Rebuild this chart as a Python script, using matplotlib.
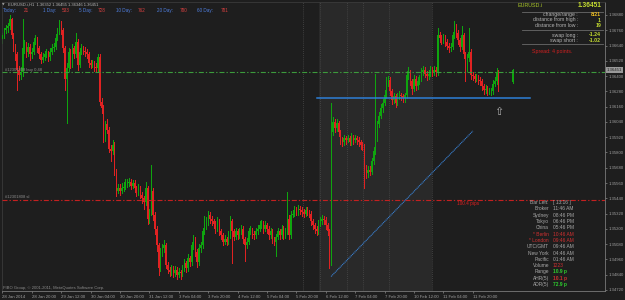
import numpy as np
import matplotlib
matplotlib.use('Agg')
import matplotlib.pyplot as plt
import matplotlib.transforms as mtransforms

plt.rcParams['font.family'] = ['Liberation Sans', 'DejaVu Sans']

# ── Data: EURUSD.i H1 bars ──────────────────────────────────────────────
first_open = 1.3669
last_open = 1.36352

closes = [
    1.3672, 1.3676, 1.3678, 1.3679, 1.3685, 1.3672, 1.3663, 1.3657, 1.3645, 1.3641,
    1.3643, 1.3662, 1.3664, 1.3659, 1.3663, 1.3657, 1.3659, 1.3667, 1.3670, 1.3662,
    1.3657, 1.3653, 1.3655, 1.3657, 1.3658, 1.3655, 1.3659, 1.3662, 1.3663, 1.3670,
    1.3675, 1.3681, 1.3676, 1.3662, 1.3638, 1.3646, 1.3659, 1.3649, 1.3662, 1.3657,
    1.3667, 1.3649, 1.3659, 1.3662, 1.3660, 1.3659, 1.3657, 1.3650, 1.3649, 1.3650,
    1.3647, 1.3646, 1.3655, 1.3620, 1.3615, 1.3591, 1.3602, 1.3598, 1.3583, 1.3581,
    1.3586, 1.3565, 1.3550, 1.3552, 1.3550, 1.3552, 1.3553, 1.3556, 1.3556, 1.3557,
    1.3554, 1.3556, 1.3552, 1.3549, 1.3552, 1.3547, 1.3544, 1.3541, 1.3552, 1.3528,
    1.3533, 1.3550, 1.3531, 1.3520, 1.3507, 1.3489, 1.3502, 1.3505, 1.3507, 1.3492,
    1.3488, 1.3486, 1.3489, 1.3485, 1.3488, 1.3484, 1.3486, 1.3485, 1.3489, 1.3493,
    1.3489, 1.3497, 1.3494, 1.3507, 1.3512, 1.3502, 1.3494, 1.3505, 1.3507, 1.3518,
    1.3523, 1.3526, 1.3531, 1.3528, 1.3526, 1.3524, 1.3520, 1.3526, 1.3518, 1.3515,
    1.3510, 1.3512, 1.3510, 1.3515, 1.3526, 1.3518, 1.3514, 1.3518, 1.3515, 1.3518,
    1.3520, 1.3512, 1.3507, 1.3510, 1.3518, 1.3519, 1.3516, 1.3515, 1.3518, 1.3520,
    1.3523, 1.3524, 1.3520, 1.3523, 1.3520, 1.3515, 1.3518, 1.3512, 1.3510, 1.3514,
    1.3518, 1.3515, 1.3520, 1.3515, 1.3518, 1.3528, 1.3515, 1.3531, 1.3532, 1.3535,
    1.3533, 1.3536, 1.3535, 1.3533, 1.3532, 1.3535, 1.3533, 1.3532, 1.3526, 1.3523,
    1.3520, 1.3518, 1.3524, 1.3526, 1.3528, 1.3527, 1.3523, 1.3518, 1.3494, 1.3596,
    1.3604, 1.3599, 1.3603, 1.3596, 1.3590, 1.3588, 1.3591, 1.3590, 1.3591, 1.3588,
    1.3592, 1.3590, 1.3591, 1.3590, 1.3588, 1.3586, 1.3585, 1.3567, 1.3564, 1.3566,
    1.3565, 1.3573, 1.3581, 1.3591, 1.3602, 1.3609, 1.3615, 1.3619, 1.3625, 1.3636,
    1.3637, 1.3628, 1.3621, 1.3624, 1.3619, 1.3624, 1.3625, 1.3624, 1.3623, 1.3625,
    1.3641, 1.3643, 1.3636, 1.3630, 1.3638, 1.3632, 1.3636, 1.3638, 1.3643, 1.3645,
    1.3642, 1.3640, 1.3642, 1.3645, 1.3643, 1.3645, 1.3643, 1.3672, 1.3670, 1.3668,
    1.3670, 1.3667, 1.3664, 1.3662, 1.3663, 1.3672, 1.3679, 1.3674, 1.3668, 1.3663,
    1.3672, 1.3657, 1.3646, 1.3654, 1.3659, 1.3641, 1.3640, 1.3638, 1.3640, 1.3637,
    1.3636, 1.3632, 1.3629, 1.3630, 1.3628, 1.3628, 1.3628, 1.3634, 1.3636, 1.3643,
    1.3642, None, None, None, None, None, None, None, 1.36451,
]

highs = [
    1.3674, 1.3678, 1.3680, 1.3682, 1.3688, 1.3686, 1.3674, 1.3665, 1.3659, 1.3648,
    1.3647, 1.3685, 1.3668, 1.3667, 1.3666, 1.3665, 1.3662, 1.3670, 1.3672, 1.3671,
    1.3664, 1.3659, 1.3658, 1.3660, 1.3661, 1.3660, 1.3662, 1.3665, 1.3666, 1.3673,
    1.3678, 1.3684, 1.3683, 1.3678, 1.3664, 1.3650, 1.3662, 1.3661, 1.3665, 1.3664,
    1.3674, 1.3669, 1.3662, 1.3665, 1.3664, 1.3663, 1.3661, 1.3659, 1.3653, 1.3653,
    1.3652, 1.3650, 1.3657, 1.3657, 1.3623, 1.3617, 1.3605, 1.3606, 1.3600, 1.3586,
    1.3590, 1.3588, 1.3567, 1.3555, 1.3555, 1.3556, 1.3557, 1.3559, 1.3559, 1.3560,
    1.3559, 1.3558, 1.3558, 1.3554, 1.3555, 1.3554, 1.3549, 1.3546, 1.3557, 1.3554,
    1.3536, 1.3570, 1.3552, 1.3533, 1.3522, 1.3509, 1.3505, 1.3508, 1.3511, 1.3509,
    1.3494, 1.3490, 1.3492, 1.3491, 1.3491, 1.3490, 1.3489, 1.3488, 1.3492, 1.3496,
    1.3495, 1.3500, 1.3499, 1.3510, 1.3515, 1.3514, 1.3504, 1.3508, 1.3510, 1.3521,
    1.3530, 1.3529, 1.3534, 1.3533, 1.3530, 1.3528, 1.3526, 1.3529, 1.3528, 1.3520,
    1.3517, 1.3515, 1.3514, 1.3518, 1.3530, 1.3528, 1.3520, 1.3521, 1.3520, 1.3521,
    1.3523, 1.3522, 1.3514, 1.3513, 1.3521, 1.3522, 1.3521, 1.3518, 1.3521, 1.3523,
    1.3526, 1.3527, 1.3526, 1.3526, 1.3525, 1.3522, 1.3521, 1.3520, 1.3514, 1.3516,
    1.3521, 1.3520, 1.3523, 1.3522, 1.3521, 1.3549, 1.3531, 1.3534, 1.3535, 1.3538,
    1.3537, 1.3539, 1.3538, 1.3537, 1.3536, 1.3537, 1.3537, 1.3535, 1.3534, 1.3528,
    1.3525, 1.3522, 1.3527, 1.3529, 1.3531, 1.3530, 1.3529, 1.3525, 1.3520, 1.3619,
    1.3608, 1.3606, 1.3606, 1.3605, 1.3598, 1.3592, 1.3594, 1.3593, 1.3594, 1.3593,
    1.3595, 1.3594, 1.3594, 1.3593, 1.3592, 1.3590, 1.3588, 1.3587, 1.3570, 1.3569,
    1.3569, 1.3576, 1.3584, 1.3642, 1.3605, 1.3612, 1.3618, 1.3622, 1.3629, 1.3639,
    1.3640, 1.3639, 1.3630, 1.3627, 1.3626, 1.3627, 1.3628, 1.3627, 1.3626, 1.3627,
    1.3644, 1.3647, 1.3645, 1.3638, 1.3641, 1.3640, 1.3639, 1.3641, 1.3646, 1.3648,
    1.3647, 1.3644, 1.3645, 1.3648, 1.3647, 1.3648, 1.3647, 1.3678, 1.3675, 1.3672,
    1.3673, 1.3672, 1.3669, 1.3666, 1.3666, 1.3675, 1.3683, 1.3681, 1.3676, 1.3670,
    1.3679, 1.3674, 1.3659, 1.3657, 1.3678, 1.3661, 1.3643, 1.3642, 1.3642, 1.3641,
    1.3639, 1.3638, 1.3634, 1.3633, 1.3632, 1.3631, 1.3631, 1.3637, 1.3639, 1.3646,
    1.3645, None, None, None, None, None, None, None, 1.36455,
]

lows = [
    1.3666, 1.3670, 1.3674, 1.3675, 1.3677, 1.3670, 1.3660, 1.3653, 1.3629, 1.3637,
    1.3638, 1.3640, 1.3658, 1.3655, 1.3656, 1.3653, 1.3654, 1.3657, 1.3665, 1.3659,
    1.3654, 1.3650, 1.3651, 1.3653, 1.3655, 1.3652, 1.3653, 1.3657, 1.3660, 1.3661,
    1.3668, 1.3673, 1.3673, 1.3659, 1.3629, 1.3603, 1.3644, 1.3646, 1.3647, 1.3654,
    1.3655, 1.3645, 1.3647, 1.3657, 1.3657, 1.3656, 1.3654, 1.3647, 1.3646, 1.3647,
    1.3644, 1.3643, 1.3644, 1.3617, 1.3611, 1.3588, 1.3589, 1.3595, 1.3580, 1.3573,
    1.3579, 1.3562, 1.3546, 1.3548, 1.3547, 1.3548, 1.3550, 1.3551, 1.3553, 1.3554,
    1.3551, 1.3552, 1.3549, 1.3546, 1.3547, 1.3544, 1.3540, 1.3536, 1.3539, 1.3524,
    1.3525, 1.3531, 1.3527, 1.3516, 1.3503, 1.3484, 1.3487, 1.3499, 1.3502, 1.3489,
    1.3485, 1.3483, 1.3484, 1.3482, 1.3483, 1.3481, 1.3482, 1.3481, 1.3483, 1.3487,
    1.3486, 1.3487, 1.3491, 1.3492, 1.3504, 1.3499, 1.3490, 1.3492, 1.3502, 1.3505,
    1.3516, 1.3520, 1.3523, 1.3525, 1.3523, 1.3521, 1.3517, 1.3518, 1.3515, 1.3512,
    1.3507, 1.3508, 1.3507, 1.3508, 1.3513, 1.3493, 1.3511, 1.3512, 1.3512, 1.3513,
    1.3516, 1.3509, 1.3495, 1.3505, 1.3508, 1.3516, 1.3513, 1.3512, 1.3513, 1.3516,
    1.3518, 1.3521, 1.3517, 1.3518, 1.3517, 1.3512, 1.3513, 1.3509, 1.3507, 1.3499,
    1.3512, 1.3512, 1.3513, 1.3512, 1.3513, 1.3516, 1.3512, 1.3513, 1.3529, 1.3530,
    1.3531, 1.3531, 1.3532, 1.3530, 1.3529, 1.3530, 1.3531, 1.3529, 1.3523, 1.3520,
    1.3517, 1.3515, 1.3516, 1.3522, 1.3524, 1.3524, 1.3520, 1.3515, 1.3489, 1.3492,
    1.3594, 1.3596, 1.3597, 1.3593, 1.3587, 1.3585, 1.3586, 1.3587, 1.3588, 1.3586,
    1.3586, 1.3587, 1.3588, 1.3587, 1.3585, 1.3583, 1.3582, 1.3552, 1.3560, 1.3561,
    1.3562, 1.3563, 1.3571, 1.3579, 1.3589, 1.3600, 1.3607, 1.3612, 1.3617, 1.3623,
    1.3632, 1.3625, 1.3618, 1.3619, 1.3616, 1.3617, 1.3622, 1.3621, 1.3620, 1.3620,
    1.3623, 1.3638, 1.3633, 1.3626, 1.3628, 1.3629, 1.3630, 1.3634, 1.3636, 1.3641,
    1.3639, 1.3637, 1.3638, 1.3640, 1.3640, 1.3641, 1.3640, 1.3641, 1.3667, 1.3665,
    1.3666, 1.3664, 1.3661, 1.3659, 1.3660, 1.3661, 1.3670, 1.3671, 1.3665, 1.3660,
    1.3661, 1.3654, 1.3636, 1.3644, 1.3652, 1.3638, 1.3637, 1.3635, 1.3636, 1.3634,
    1.3633, 1.3629, 1.3626, 1.3627, 1.3625, 1.3626, 1.3625, 1.3626, 1.3632, 1.3634,
    1.3628, None, None, None, None, None, None, None, 1.36346,
]

time_labels = ['28 Jan 2014', '28 Jan 20:00', '29 Jan 12:00', '30 Jan 04:00',
               '30 Jan 20:00', '31 Jan 12:00', '3 Feb 04:00', '3 Feb 20:00',
               '4 Feb 12:00', '5 Feb 04:00', '5 Feb 20:00', '6 Feb 12:00',
               '7 Feb 04:00', '7 Feb 20:00', '10 Feb 12:00', '11 Feb 04:00',
               '11 Feb 20:00']
time_label_bars = list(range(0, 257, 16))

price_ticks = [1.36880, 1.36760, 1.36640, 1.36520, 1.36400, 1.36280, 1.36160,
               1.36040, 1.35920, 1.35800, 1.35680, 1.35560, 1.35440, 1.35320,
               1.35200, 1.35080, 1.34960, 1.34840, 1.34720]

# chart objects
order_price = 1.36430      # buy 0.48
sl_price = 1.35426         # stop loss
support_price = 1.36226    # blue horizontal line
support_bars = [171.3, 287.2]
trend_bars = [178.9, 256.1]
trend_prices = [1.34826, 1.35969]
arrow_bar, arrow_price = 270.3, 1.36118
session_band = [172.3, 233.8]
separator_bars = [163.6, 172.9, 187.6, 196.3, 210.4, 233.8]

period_labels = ['Today:', '1 Day:', '5 Day:', '10 Day:', '20 Day:', '60 Day:']
period_values = ['21', '533', '728', '762', '780', '781']

info_labels = ['change/range :', 'distance from high :', 'distance from low :']
info_values = ['8/21', '1', '19']
swap_labels = ['swap long :', 'swap short :']
swap_values = ['-1.24', '-1.02']

clock_labels = ['Bar Left:', 'Broker', 'Sydney', 'Tokyo', 'China', '* Berlin',
                '* London', 'UTC/GMT', 'New York', 'Pacific', 'Volume', 'Range',
                'AHR(5)', 'ADR(5)']
clock_values = ['[ 13:16 ]', '11:46 AM', '08:46 PM', '06:46 PM', '05:46 PM',
                '10:46 AM', '09:46 AM', '09:46 AM', '04:46 AM', '01:46 AM',
                '1223', '10.9 p', '10.1 p', '72.9 p']

# ── Colours ────────────────────────────────────────────────────────────
bg = '#1e1e1e'
band = '#292929'
up_col = '#0fa50f'
dn_col = '#e02222'
txt_gray = '#a8a8a8'
red_txt = '#d03030'
green_txt = '#2ed02e'
yg_txt = '#c4dc30'

W, H = 625, 300
fig = plt.figure(figsize=(6.25, 3.0), dpi=100, facecolor=bg)
ax = fig.add_axes([2 / W, 9 / H, 603 / W, 289 / H], facecolor=bg)


def fpos(x, y):
    return x / W, 1 - y / H


# ── Candles ────────────────────────────────────────────────────────────
c = np.array(closes, dtype=float)
hi = np.array(highs, dtype=float)
lo = np.array(lows, dtype=float)
o = np.r_[first_open, c[:-1]]
o[np.isnan(o) & ~np.isnan(c)] = last_open
idx = np.arange(len(c))
ok = ~np.isnan(c)
up = ok & (c >= o)
dn = ok & (c < o)

ax.axvspan(session_band[0], session_band[1], color=band, zorder=0, lw=0)
for b in separator_bars:
    ax.axvline(b, color='#4a4a4a', lw=0.6, ls=(0, (1, 1.5)), zorder=1)

for mask, col in [(up, up_col), (dn, dn_col)]:
    ax.vlines(idx[mask], lo[mask], hi[mask], color=col, lw=0.62,
              antialiased=False, zorder=2)
    body_lo = np.minimum(o[mask], c[mask])
    body_h = np.maximum(np.abs(c[mask] - o[mask]), 0.00004)
    ax.bar(idx[mask], body_h, bottom=body_lo, width=0.7, color=col,
           lw=0, antialiased=False, zorder=3)

# ── Objects on the chart ───────────────────────────────────────────────
ax.axhline(order_price, color='#3c9a3c', lw=0.8, dashes=(4.5, 1.8, 1.2, 1.8), zorder=4)
ax.axhline(sl_price, color='#c42020', lw=0.8, dashes=(4.5, 1.8, 1.2, 1.8), zorder=4)
ax.plot(support_bars, [support_price] * 2, color='#2d7fd6', lw=1.1, zorder=5)
ax.plot(trend_bars, trend_prices, color='#3a82d4', lw=0.8, ls=(0, (1, 0.6)), zorder=5)
ax.text(arrow_bar, arrow_price, '\u21e7', color='#b0b0b0', fontsize=8,
        ha='center', va='center', family=['DejaVu Sans'], zorder=6)

ax.text(1.5, order_price + 0.00005, '#12301808 buy 0.48', color='#8c8c8c',
        fontsize=3, va='bottom', zorder=6)
ax.text(1.5, sl_price + 0.00005, '#12301808 sl', color='#8c8c8c',
        fontsize=3, va='bottom', zorder=6)
ax.text(253.4, sl_price - 0.00005, '%.1f pips' % ((order_price - sl_price) * 10000),
        color='#e02020', fontsize=3.4, ha='center', va='top', zorder=6)

# ── Axes ───────────────────────────────────────────────────────────────
ax.set_xlim(-0.2, 328.0)
ax.set_ylim(1.347120, 1.369821)
ax.yaxis.tick_right()
ax.set_yticks(price_ticks)
ax.set_yticklabels(['%.5f' % p for p in price_ticks])
ax.set_xticks(time_label_bars)
ax.set_xticklabels(time_labels, ha='left')
ax.tick_params(axis='both', colors='#8a8a8a', labelcolor='#a0a0a0',
               labelsize=3.1, length=1.6, width=0.5, pad=1.2)
for side in ['left', 'top']:
    ax.spines[side].set_color('#3a3a3a')
    ax.spines[side].set_linewidth(0.6)
for side in ['right', 'bottom']:
    ax.spines[side].set_color('#7a7a7a')
    ax.spines[side].set_linewidth(0.6)

# current price box on the price scale
blend = mtransforms.blended_transform_factory(ax.transAxes, ax.transData)
ax.text(1.003, closes[-1], '%.5f' % closes[-1], transform=blend, fontsize=3.1,
        color='#202020', va='center', ha='left', clip_on=False,
        bbox=dict(boxstyle='square,pad=0.25', fc='#9a9a9a', ec='none'), zorder=7)

# ── Header texts (top left) ────────────────────────────────────────────
fig.text(*fpos(2, 4.7), '\u25bc', color='#a0a0a0', fontsize=2.4, va='center',
         family=['DejaVu Sans'])
fig.text(*fpos(8, 4.7), 'EURUSD.i,H1  %.5f %.5f %.5f %.5f' %
         (last_open, highs[-1], lows[-1], closes[-1]),
         color='#b8b8b8', fontsize=3, va='center')
label_x = [3, 43, 79, 116, 157, 197]
value_x = [24, 62, 98, 138, 180, 221]
for lab, val, lx, vx in zip(period_labels, period_values, label_x, value_x):
    fig.text(*fpos(lx, 10.3), lab, color='#4f7fe0', fontsize=3.3, va='center')
    fig.text(*fpos(vx, 10.3), val, color='#d84040', fontsize=3.3, va='center')

# ── Symbol panel (top right) ───────────────────────────────────────────
fig.text(*fpos(518, 5.7), 'EURUSD.i', color='#a8c428', fontsize=3.9, va='center')
fig.text(*fpos(601, 5.7), '%.5f' % closes[-1], color=yg_txt, fontsize=4.8,
         fontweight='bold', va='center', ha='right')
for y in [12.3, 30.3, 44.3]:
    fig.add_artist(plt.Line2D([522 / W, 603 / W], [1 - y / H] * 2,
                              color='#6a6a6a', lw=0.6))
for i, (lab, val) in enumerate(zip(info_labels, info_values)):
    y = 14.7 + 5.3 * i
    fig.text(*fpos(578, y), lab, color='#b4b4b4', fontsize=3.7, va='center', ha='right')
    fig.text(*fpos(601, y), val, color='#f0c020' if i == 0 else yg_txt,
             fontsize=3.7, va='center', ha='right', fontweight='bold')
for i, (lab, val) in enumerate(zip(swap_labels, swap_values)):
    y = 35 + 5.4 * i
    fig.text(*fpos(578, y), lab, color='#b4b4b4', fontsize=3.7, va='center', ha='right')
    fig.text(*fpos(601, y), val, color=yg_txt, fontsize=3.7, va='center',
             ha='right', fontweight='bold')
fig.text(*fpos(532, 52), 'Spread: 4 points.', color='#d02020', fontsize=3.8, va='center')

# ── Clock panel (bottom right) ─────────────────────────────────────────
for i, (lab, val) in enumerate(zip(clock_labels, clock_values)):
    y = 202.7 + 6.3 * i
    lab_col = red_txt if lab.startswith('*') else txt_gray
    if lab in ('Volume', 'AHR(5)'):
        val_col = red_txt
    elif lab in ('Range', 'ADR(5)'):
        val_col = green_txt
    else:
        val_col = lab_col
    fig.text(*fpos(549, y), lab, color=lab_col, fontsize=3.5, va='center', ha='right')
    fig.text(*fpos(553, y), val, color=val_col, fontsize=3.5, va='center',
             fontweight='bold' if lab in ('Range', 'AHR(5)', 'ADR(5)') else 'normal')

fig.text(*fpos(3, 288), 'FIBO Group, \u00a9 2001-2011, MetaQuotes Software Corp.',
         color='#8a8a8a', fontsize=3, va='center')

fig.savefig('out.png', dpi=100, facecolor=bg)
